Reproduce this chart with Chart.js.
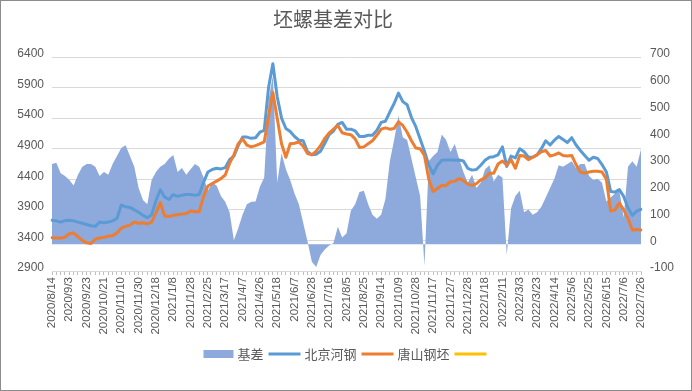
<!DOCTYPE html>
<html>
<head>
<meta charset="utf-8">
<script src="https://cdn.jsdelivr.net/npm/chart.js@4"></script>
<style>
  html, body { margin: 0; padding: 0; background: #fff; }
  canvas { display: block; }
</style>
</head>
<body>
<canvas id="chart" width="692" height="391"></canvas>
<script>
const chartTitle = '坯螺基差对比';

// one label every 4 trading days in the data below
const dateLabels = [
  '2020/8/14', '2020/9/3', '2020/9/23', '2020/10/21', '2020/11/10', '2020/11/30', '2020/12/18',
  '2021/1/8', '2021/1/28', '2021/2/25', '2021/3/17', '2021/4/7', '2021/4/26', '2021/5/18',
  '2021/6/7', '2021/6/28', '2021/7/16', '2021/8/5', '2021/8/25', '2021/9/14', '2021/10/9',
  '2021/10/28', '2021/11/17', '2021/12/7', '2021/12/28', '2022/1/18', '2022/2/11', '2022/3/3',
  '2022/3/23', '2022/4/14', '2022/5/6', '2022/5/25', '2022/6/15', '2022/7/6', '2022/7/26'
];
const pointsPerLabel = 4;

const seriesNames = ['基差', '北京河钢', '唐山钢坯', ''];

const basis = [
  300, 305, 265, 255, 240, 220, 260, 290, 300, 300,
  290, 255, 270, 260, 300, 330, 360, 370, 330, 290,
  210, 165, 150, 240, 270, 290, 300, 320, 334, 270,
  285, 260, 280, 300, 290, 250, 200, 230, 220, 180,
  159, 120, 15, 60, 110, 150, 159, 160, 215, 250,
  540, 630, 230, 340, 280, 240, 190, 150, 80, 10,
  -65, -85, -40, -20, -5, 5, 65, 25, 40, 125,
  150, 195, 200, 150, 110, 95, 110, 170, 310, 390,
  480, 400, 390, 320, 250, 180, -80, 310, 330, 345,
  410, 390, 345, 375, 320, 270, 230, 260, 210, 230,
  280, 295, 235, 260, 250, -40, 135, 180, 200, 120,
  130, 110, 120, 140, 175, 210, 245, 295, 290, 300,
  310, 285, 300, 300, 255, 240, 245, 230, 160, 175,
  190, 200, 100, 290, 310, 290, 355
];

const beijing = [
  3730, 3720, 3700, 3725, 3730, 3720, 3700, 3680, 3660, 3640,
  3630, 3700, 3690, 3700, 3720, 3760, 3980, 3950, 3940, 3900,
  3860, 3810, 3770, 3820, 4050, 4230, 4110, 4070, 4150, 4120,
  4140, 4150, 4150, 4140, 4150, 4350, 4520, 4560, 4580, 4570,
  4590, 4720, 4780, 4950, 5090, 5090, 5070, 5080, 5170, 5200,
  5900, 6290, 5750, 5400, 5230, 5180, 5100, 5040, 5030, 4850,
  4800, 4810, 4860, 4990, 5130, 5190, 5300, 5330, 5220, 5220,
  5190, 5100, 5100, 5120, 5120, 5200, 5330, 5350, 5500, 5640,
  5810, 5670, 5620, 5410, 5260, 5060, 4860, 4630, 4490, 4630,
  4710, 4715, 4715, 4710, 4715, 4700, 4580, 4550, 4560, 4630,
  4710, 4760, 4770, 4800, 4930, 4610, 4780, 4750, 4900, 4850,
  4760, 4760, 4800, 4900, 5030, 4960, 5040, 5100, 5050, 5000,
  5080, 4960, 4870, 4790, 4710, 4760, 4740, 4640, 4520, 4200,
  4190, 4230, 4120, 3930, 3810, 3880, 3910
];

const tangshan = [
  3445, 3440, 3440, 3450, 3510, 3520, 3460, 3400, 3360, 3350,
  3420, 3440, 3450, 3470, 3480, 3520, 3600, 3630, 3650, 3700,
  3680, 3690, 3670, 3700, 3850, 4020, 3800, 3790, 3810, 3820,
  3830, 3840, 3880, 3870, 3870, 4120, 4290, 4330, 4370, 4410,
  4470, 4660, 4800, 4980, 5060, 4960, 4930, 4950, 4980, 5010,
  5430, 5820, 5400, 4980, 4760, 4980, 4990, 5010, 4940, 4820,
  4800, 4860, 4950, 5070, 5160, 5220, 5280, 5160, 5140, 5130,
  5060, 4920, 4930, 4980, 5030, 5120, 5220, 5240, 5220, 5230,
  5340, 5280, 5170, 5030, 4910, 4900, 4790, 4400, 4200, 4250,
  4300, 4300, 4360, 4370, 4410, 4380, 4320, 4300, 4330, 4390,
  4420, 4500, 4500, 4650, 4700, 4630, 4720, 4580, 4790, 4780,
  4720, 4760, 4800, 4850, 4870, 4780, 4800, 4830, 4790, 4780,
  4790, 4640, 4520, 4500, 4520, 4530, 4530, 4520, 4400, 3880,
  3900, 4010, 3900, 3760, 3570, 3580, 3570
];

const textColor = '#595959';
const tickFont = { family: '"Liberation Sans", Arial, sans-serif', size: 12 };

// x categories: a date, then blanks for the days in between
const xLabels = [];
dateLabels.forEach((d, i) => {
  xLabels.push(d);
  if (i < dateLabels.length - 1) {
    for (let k = 1; k < pointsPerLabel; k++) xLabels.push('');
  }
});

const decorations = {
  id: 'decorations',
  beforeDraw(chart) {
    const ctx = chart.ctx;
    ctx.save();
    ctx.fillStyle = '#fff';
    ctx.fillRect(0, 0, chart.width, chart.height);
    ctx.restore();
  },
  afterDraw(chart) {
    const ctx = chart.ctx;
    ctx.save();

    // title
    ctx.fillStyle = textColor;
    ctx.font = '20px "Noto Sans CJK SC", sans-serif';
    ctx.textAlign = 'center';
    ctx.textBaseline = 'middle';
    ctx.fillText(chartTitle, 333, 19);

    // legend
    ctx.font = '13px "Noto Sans CJK SC", sans-serif';
    ctx.textAlign = 'left';
    const items = chart.data.datasets.map(ds => ({
      label: ds.label,
      rect: !!ds.fill,
      color: ds.fill ? ds.backgroundColor : ds.borderColor
    }));
    const widths = items.map(it => (it.rect ? 30 : 32) + (it.label ? 4 + ctx.measureText(it.label).width : 0));
    const gap = 5;
    const total = widths.reduce((a, b) => a + b, 0) + gap * (items.length - 1);
    let x = 345 - total / 2;
    const y = 354;
    items.forEach((it, i) => {
      const sw = it.rect ? 30 : 32;
      if (it.rect) {
        ctx.fillStyle = it.color;
        ctx.fillRect(x, y - 4, sw, 8);
      } else {
        ctx.strokeStyle = it.color;
        ctx.lineWidth = 3;
        ctx.beginPath();
        ctx.moveTo(x, y);
        ctx.lineTo(x + sw, y);
        ctx.stroke();
      }
      if (it.label) {
        ctx.fillStyle = textColor;
        ctx.fillText(it.label, x + sw + 4, y);
      }
      x += widths[i] + gap;
    });

    // frame
    ctx.strokeStyle = '#8c8c8c';
    ctx.lineWidth = 1;
    ctx.strokeRect(0.5, 0.5, chart.width - 1, chart.height - 1);
    ctx.restore();
  }
};

new Chart(document.getElementById('chart'), {
  type: 'line',
  data: {
    labels: xLabels,
    datasets: [
      {
        label: seriesNames[0],
        data: basis,
        yAxisID: 'y1',
        fill: 'origin',
        backgroundColor: 'rgb(142,169,219)',
        borderColor: 'rgba(0,0,0,0)',
        borderWidth: 0,
        order: 4
      },
      {
        label: seriesNames[1],
        data: beijing,
        yAxisID: 'y',
        fill: false,
        borderColor: '#5B9BD5',
        borderWidth: 3,
        order: 2
      },
      {
        label: seriesNames[2],
        data: tangshan,
        yAxisID: 'y',
        fill: false,
        borderColor: '#ED7D31',
        borderWidth: 3,
        order: 1
      },
      {
        label: seriesNames[3],
        data: [],
        yAxisID: 'y',
        fill: false,
        borderColor: '#FFC000',
        borderWidth: 2,
        order: 0
      }
    ]
  },
  options: {
    responsive: false,
    animation: false,
    layout: { padding: { top: 57, left: 0, right: 0, bottom: 0 } },
    elements: {
      point: { radius: 0 },
      line: { tension: 0, borderJoinStyle: 'round', borderCapStyle: 'round' }
    },
    plugins: {
      legend: { display: false },
      title: { display: false },
      tooltip: { enabled: false }
    },
    scales: {
      x: {
        type: 'category',
        grid: { drawOnChartArea: false, drawTicks: true, tickLength: 4, color: '#BFBFBF' },
        border: { display: true, color: '#D9D9D9' },
        ticks: {
          autoSkip: false,
          maxRotation: 90,
          minRotation: 90,
          padding: 2,
          color: textColor,
          font: { family: tickFont.family, size: 11.5 }
        },
        afterFit: s => { s.height = 120; }
      },
      y: {
        position: 'left',
        min: 2900,
        max: 6400,
        ticks: {
          stepSize: 500,
          padding: 8,
          color: textColor,
          font: tickFont,
          labelOffset: -3,
          callback: v => String(v)
        },
        grid: { color: '#D9D9D9', drawTicks: false },
        border: { display: false },
        afterFit: s => { s.width = 52; }
      },
      y1: {
        position: 'right',
        min: -100,
        max: 700,
        ticks: {
          stepSize: 100,
          padding: 9,
          color: textColor,
          font: tickFont,
          labelOffset: -3,
          callback: v => String(v)
        },
        grid: { drawOnChartArea: false, drawTicks: false },
        border: { display: false },
        afterFit: s => { s.width = 51; }
      }
    }
  },
  plugins: [decorations]
});
</script>
</body>
</html>
